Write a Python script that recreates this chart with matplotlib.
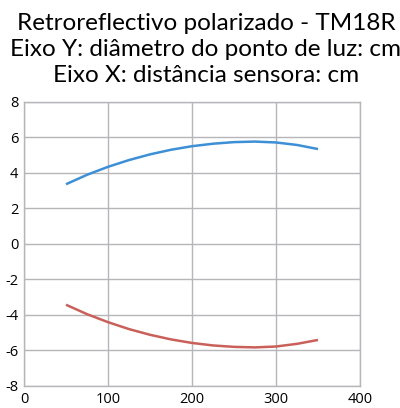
import matplotlib
matplotlib.use("Agg")
import matplotlib.pyplot as plt

# distance (cm) and spot diameter half-widths (cm)
distance = [50, 75, 100, 125, 150, 175, 200, 225, 250, 275, 300, 325, 350]
upper = [3.35, 3.88, 4.33, 4.71, 5.03, 5.29, 5.49, 5.63, 5.72, 5.75, 5.70, 5.56, 5.33]
lower = [-3.43, -3.96, -4.41, -4.80, -5.12, -5.38, -5.58, -5.72, -5.80, -5.83, -5.78, -5.63, -5.41]

x_ticks = [0, 100, 200, 300, 400]
y_ticks = [-8, -6, -4, -2, 0, 2, 4, 6, 8]

title = ("Retroreflectivo polarizado - TM18R\n"
         "Eixo Y: diâmetro do ponto de luz: cm\n"
         "Eixo X: distância sensora: cm")

plt.rcParams["axes.unicode_minus"] = False

fig = plt.figure(figsize=(4, 4.08), dpi=100)
ax = fig.add_axes([0.06, 0.054, 0.84, 0.697])

ax.plot(distance, upper, color="#3d8fd6", lw=1.8, solid_capstyle="butt")
ax.plot(distance, lower, color="#c9605a", lw=1.8, solid_capstyle="butt")

ax.set_xlim(0, 400)
ax.set_ylim(-8, 8)
ax.set_xticks(x_ticks)
ax.set_yticks(y_ticks)
ax.grid(True, color="#b6b6ba", lw=1.0)
ax.set_axisbelow(True)
for s in ax.spines.values():
    s.set_color("#b6b6ba")
    s.set_linewidth(1.0)
ax.tick_params(length=0, labelsize=10.5, pad=4)
for lab in ax.get_xticklabels() + ax.get_yticklabels():
    lab.set_family("Open Sans")

fig.text(0.515, 0.968, title, ha="center", va="top", fontsize=17.5,
         family="Lato", linespacing=1.3)

fig.savefig("out.png")
